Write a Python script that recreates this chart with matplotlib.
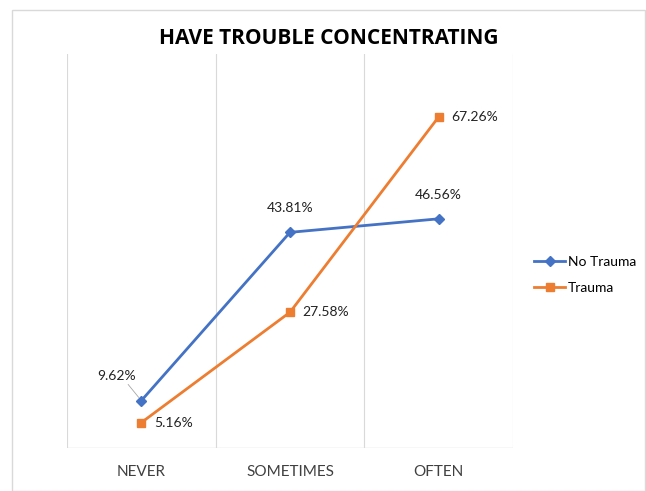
import matplotlib.pyplot as plt
from matplotlib.patches import Rectangle

# Data
categories = ['NEVER', 'SOMETIMES', 'OFTEN']
no_trauma = [9.62, 43.81, 46.56]
trauma = [5.16, 27.58, 67.26]

blue = '#4472C4'
orange = '#ED7D31'

plt.rcParams['font.family'] = ['Lato', 'DejaVu Sans']

fig = plt.figure(figsize=(6.46, 4.91), dpi=100)
ax = fig.add_axes([0.1037, 0.0876, 0.6904, 0.802])

# Outer chart border
fig.patches.append(Rectangle((12 / 646, 0), 1 - 12 / 646 - 0.002, 1 - 10 / 491,
                             transform=fig.transFigure, fill=False,
                             edgecolor='#d9d9d9', linewidth=1))

x = list(range(len(categories)))
ax.plot(x, no_trauma, color=blue, linewidth=2, marker='D', markersize=5, label='No Trauma')
ax.plot(x, trauma, color=orange, linewidth=2, marker='s', markersize=6, label='Trauma')

ax.set_xlim(-0.5, 2.5)
ax.set_ylim(0, 80)

# Vertical category gridlines
for b in [-0.5, 0.5, 1.5, 2.5]:
    ax.axvline(b, color='#d9d9d9', linewidth=0.8, zorder=0)

for s in ax.spines.values():
    s.set_visible(False)
ax.axhline(0, color='#d9d9d9', linewidth=1, zorder=0)

ax.set_yticks([])
ax.set_xticks(x)
ax.set_xticklabels(categories, fontsize=11, color='#404040')
ax.tick_params(axis='x', length=0, pad=12)

# Data labels
ax.annotate('9.62%', xy=(x[0], no_trauma[0]), xytext=(-32, 18), textcoords='offset points',
            fontsize=10, color='#222222', ha='left', va='center',
            arrowprops=dict(arrowstyle='-', color='#a6a6a6', linewidth=0.6,
                            shrinkA=0, shrinkB=3, relpos=(0.75, 0)))
ax.annotate('5.16%', xy=(x[0], trauma[0]), xytext=(9, 0), textcoords='offset points',
            fontsize=10, color='#222222', ha='left', va='center')
ax.annotate('43.81%', xy=(x[1], no_trauma[1]), xytext=(0, 13), textcoords='offset points',
            fontsize=10, color='#222222', ha='center', va='bottom')
ax.annotate('27.58%', xy=(x[1], trauma[1]), xytext=(9, 0), textcoords='offset points',
            fontsize=10, color='#222222', ha='left', va='center')
ax.annotate('46.56%', xy=(x[2], no_trauma[2]), xytext=(0, 13), textcoords='offset points',
            fontsize=10, color='#222222', ha='center', va='bottom')
ax.annotate('67.26%', xy=(x[2], trauma[2]), xytext=(9, 0), textcoords='offset points',
            fontsize=10, color='#222222', ha='left', va='center')

fig.text(0.5 * (12 / 646) + 0.5, 1 - 38 / 491, 'HAVE TROUBLE CONCENTRATING',
         ha='center', va='center', fontsize=15, fontweight='bold', color='#000000',
         family=['Open Sans', 'DejaVu Sans'])

ax.legend(loc='center left', bbox_to_anchor=(1.02, 0.44), frameon=False, fontsize=10,
          handlelength=2.2, labelspacing=1.0, handletextpad=0.2)

fig.savefig('out.png', dpi=100)
